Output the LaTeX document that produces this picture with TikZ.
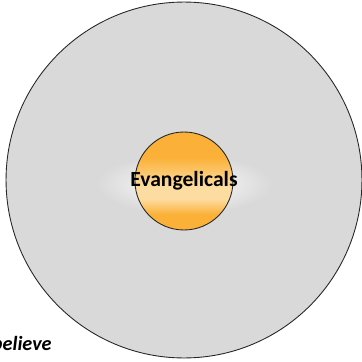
\documentclass[tikz,border=0pt]{standalone}
\usepackage{fontspec}
\setmainfont{Carlito}
\definecolor{ringgray}{HTML}{D9D9D9}
\definecolor{coreorange}{HTML}{FBB138}
\definecolor{corelight}{HTML}{FDDCA2}
\pgfdeclareverticalshading{coreband}{100bp}{color(0bp)=(coreorange);
    color(33bp)=(coreorange); color(41bp)=(corelight); color(47bp)=(corelight);
    color(62bp)=(coreorange); color(100bp)=(coreorange)}
\begin{document}
\begin{tikzpicture}[
    x=0.02cm, y=-0.02cm,
    every node/.style={font=\bfseries},
    ring/.style={
        circle, draw=black!85, line width=0.5pt,
        fill=ringgray, minimum size=7.12cm, inner sep=0pt
    },
    core/.style={
        circle, draw=black!85, line width=0.5pt,
        shade, shading=coreband,
        minimum size=1.96cm, inner sep=0pt
    },
    corelabel/.style={font=\bfseries\fontsize{12.3}{14}\selectfont, inner sep=0pt},
    sidelabel/.style={font=\bfseries\itshape\fontsize{11.5}{13}\selectfont}
]
\useasboundingbox (0,0) rectangle (362,362);

% Aeusserer Kreis
\node[ring] (outer) at (184,180) {};

% Leuchten hinter dem Kern
\shade[inner color=white, outer color=ringgray]
    (184,184) ellipse [x radius=88, y radius=30];

% Kern
\node[core] (core) at (184,181) {};
\node[corelabel] (name) at (core.center) {Evangelicals};

% Beschriftung unten links (abgeschnitten)
\node[sidelabel, anchor=base east, inner sep=0pt] (believe) at (52,350) {believe};

\end{tikzpicture}
\end{document}
